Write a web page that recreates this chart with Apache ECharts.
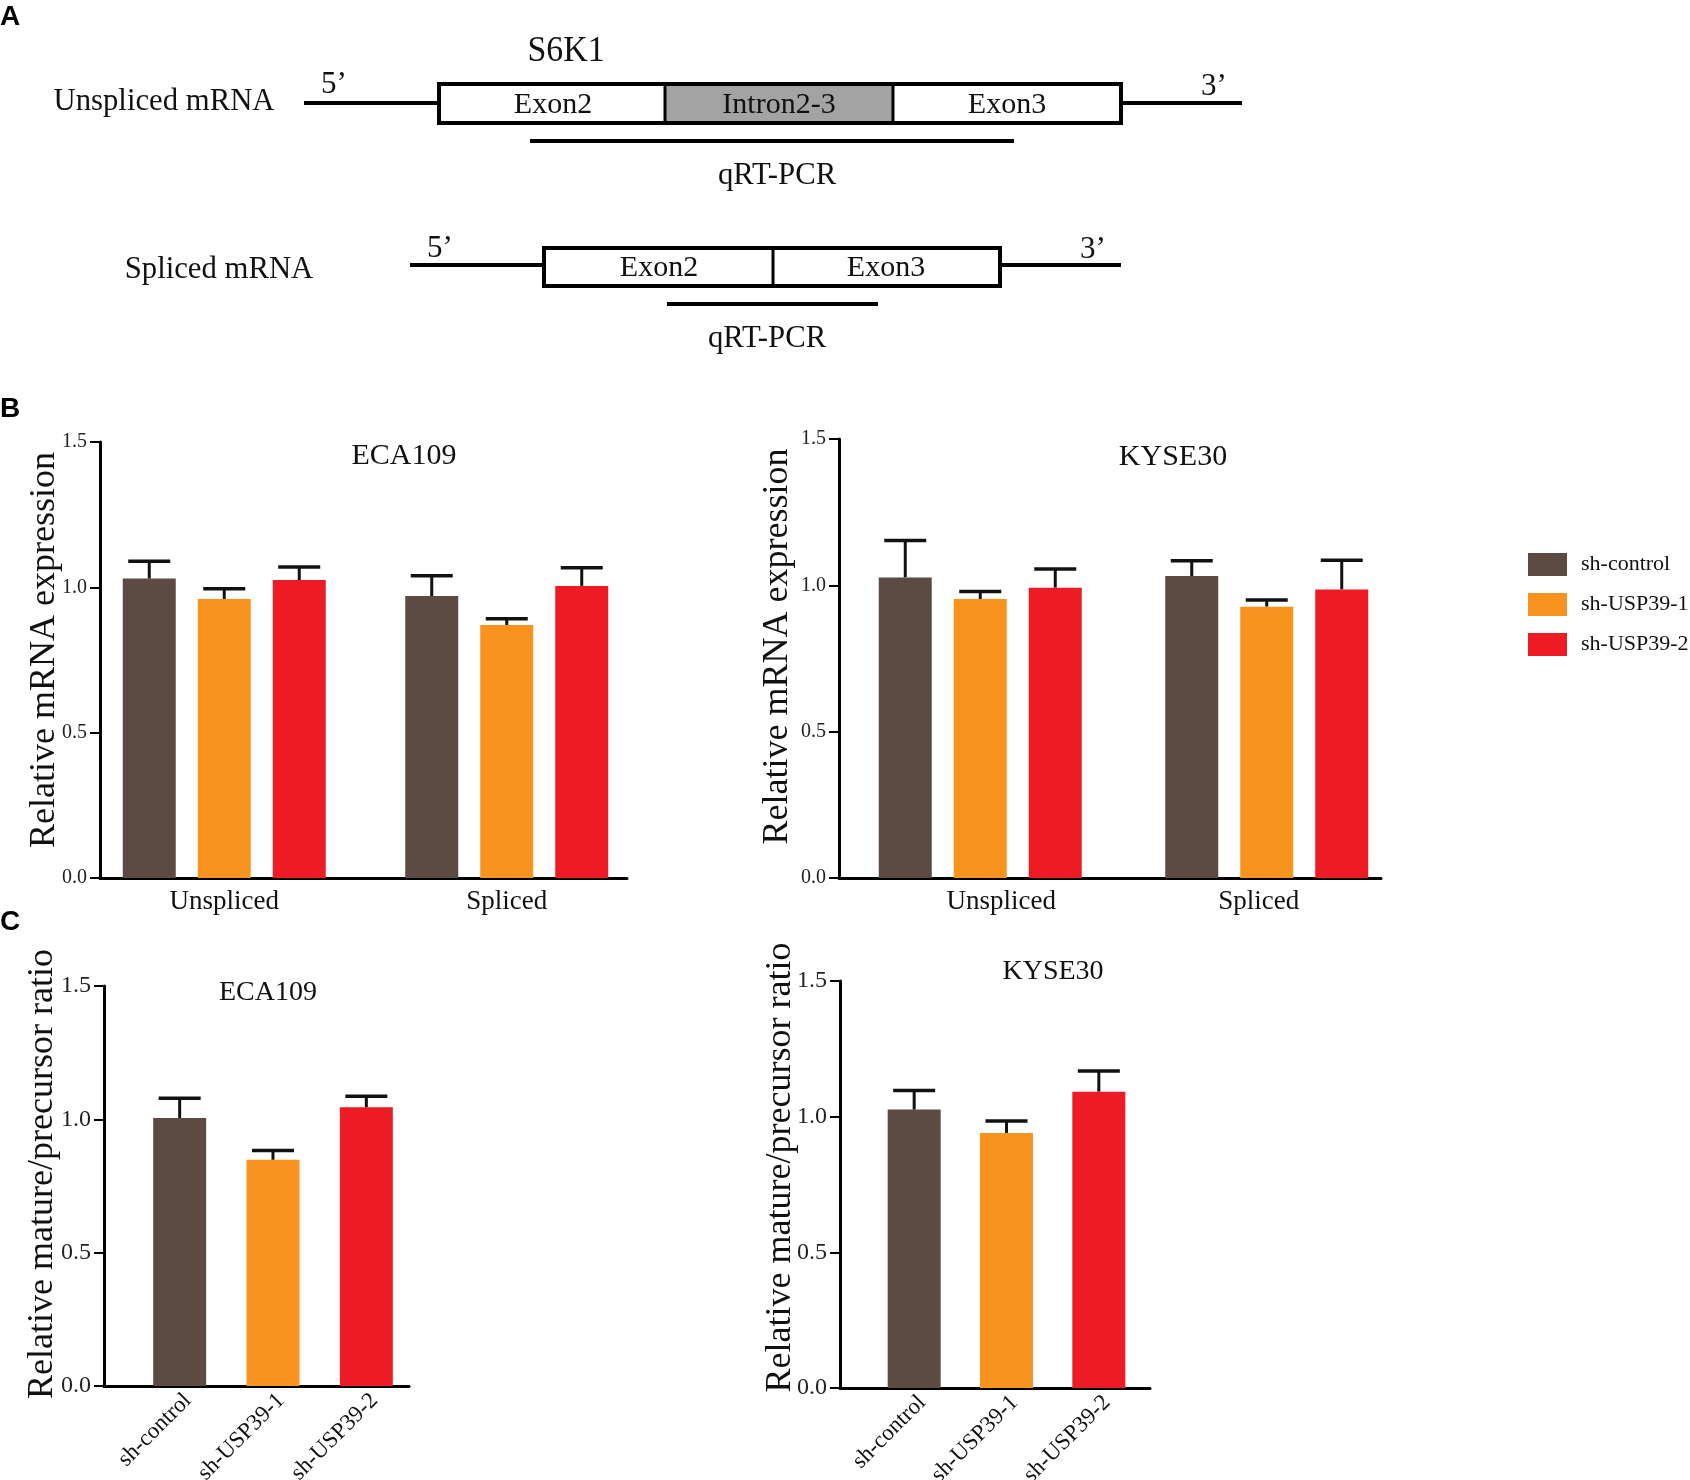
<!DOCTYPE html>
<html>
<head>
<meta charset="utf-8">
<script src="https://cdn.jsdelivr.net/npm/echarts@6/dist/echarts.min.js"></script>
<style>
  html, body { margin: 0; background: #fff; }
  #chart { width: 1690px; height: 1480px; }
</style>
</head>
<body>
<div id="chart"></div>
<script>
// groups and categories
const groups = ['sh-control', 'sh-USP39-1', 'sh-USP39-2'];
const splicing = ['Unspliced', 'Spliced'];
const colors = ['#5B4B42', '#F7931E', '#ED1C24'];

// B, ECA109: relative mRNA expression (mean) and error (upper bar)
const ecaCtrl = [1.03, 0.97];
const ecaUsp1 = [0.96, 0.87];
const ecaUsp2 = [1.025, 1.005];
const ecaCtrlErr = [0.06, 0.07];
const ecaUsp1Err = [0.035, 0.022];
const ecaUsp2Err = [0.045, 0.062];

// B, KYSE30
const kyseCtrl = [1.027, 1.032];
const kyseUsp1 = [0.953, 0.927];
const kyseUsp2 = [0.992, 0.986];
const kyseCtrlErr = [0.126, 0.052];
const kyseUsp1Err = [0.026, 0.023];
const kyseUsp2Err = [0.064, 0.1];

// C, mature/precursor ratio
const ecaRatio = [1.005, 0.848, 1.045];
const ecaRatioErr = [0.074, 0.035, 0.042];
const kyseRatio = [1.026, 0.94, 1.092];
const kyseRatioErr = [0.07, 0.044, 0.076];

const serif = '"Liberation Serif", "Times New Roman", serif';
const BAR_W = 53;
const BAR_GAP = 22;

const chart = echarts.init(document.getElementById('chart'));

// error bar (stem + cap) drawn through the axes of a bar grid
function errSeries(axisIdx, means, errs, slot, nSlots) {
  const pitch = BAR_W + BAR_GAP;
  return {
    type: 'custom',
    xAxisIndex: axisIdx,
    yAxisIndex: axisIdx,
    z: 1,
    data: means.map((m, i) => [i, m, m + errs[i]]),
    renderItem(params, api) {
      const base = api.coord([api.value(0), api.value(1)]);
      const top = api.coord([api.value(0), api.value(2)]);
      const x = base[0] + (slot - (nSlots - 1) / 2) * pitch;
      return {
        type: 'group',
        children: [
          { type: 'line', shape: { x1: x, y1: base[1], x2: x, y2: top[1] },
            style: { stroke: '#111', lineWidth: 3 } },
          { type: 'line', shape: { x1: x - 21, y1: top[1], x2: x + 21, y2: top[1] },
            style: { stroke: '#111', lineWidth: 3.5 } }
        ]
      };
    }
  };
}

function frameX(g) {
  return {
    gridIndex: g, type: 'category', data: [''],
    axisLine: { lineStyle: { color: '#000', width: 3 } },
    axisTick: { show: false }, axisLabel: { show: false }
  };
}
function frameY(g, name, labelSize, nameGap, shiftUp) {
  return {
    gridIndex: g, type: 'value', min: 0, max: 1.5, interval: 0.5,
    axisLine: { show: true, lineStyle: { color: '#000', width: 3 } },
    axisTick: { show: true, length: 10, lineStyle: { color: '#000', width: 2 } },
    axisLabel: { formatter: v => v.toFixed(1), fontFamily: serif, fontSize: labelSize, color: '#222', margin: 13 },
    splitLine: { show: false },
    name: name, nameLocation: 'middle', nameGap: nameGap, nameMoveOverlap: false,
    nameTextStyle: { fontFamily: serif, fontSize: 36, color: '#111', padding: [0, 0, 0, shiftUp * 2] }
  };
}
function barX(g, cats, rotate, shifts) {
  const label = rotate
    ? { rotate: 45, verticalAlign: 'top', fontFamily: serif, fontSize: 23, color: '#111', margin: 3 }
    : { fontFamily: serif, fontSize: 27, color: '#111', margin: 10 };
  if (shifts) {
    // nudge individual category labels sideways, as in the figure
    label.formatter = (v, i) => '{c' + i + '|' + v + '}';
    label.rich = {};
    shifts.forEach((s, i) => {
      label.rich['c' + i] = {
        fontFamily: serif, fontSize: 27, color: '#111',
        padding: s > 0 ? [0, 0, 0, 2 * s] : [0, -2 * s, 0, 0]
      };
    });
  }
  return {
    gridIndex: g, type: 'category', data: cats,
    axisLine: { show: false }, axisTick: { show: false },
    axisLabel: label
  };
}
function barY(g) {
  return { gridIndex: g, type: 'value', min: 0, max: 1.5, show: false };
}

function groupedBars(axisIdx, lists) {
  return lists.map((vals, i) => ({
    name: groups[i], type: 'bar', xAxisIndex: axisIdx, yAxisIndex: axisIdx,
    barWidth: BAR_W, barGap: (BAR_GAP / BAR_W * 100).toFixed(1) + '%',
    itemStyle: { color: colors[i] }, z: 2, data: vals
  }));
}
function ratioBars(axisIdx, vals) {
  return {
    name: 'ratio', type: 'bar', xAxisIndex: axisIdx, yAxisIndex: axisIdx,
    barWidth: BAR_W, z: 2,
    data: vals.map((v, i) => ({ value: v, itemStyle: { color: colors[i] } }))
  };
}

function txt(text, x, y, size, sx) {
  return {
    type: 'text', x: x, y: y, z: 20, scaleX: sx || 1,
    style: {
      text: text, font: size + 'px ' + serif, fill: '#111',
      align: 'center', verticalAlign: 'middle', textAlign: 'center', textVerticalAlign: 'middle'
    }
  };
}
function letter(text, y) {
  return {
    type: 'text', x: 0, y: y, z: 20,
    style: { text: text, font: 'bold 28px "Liberation Sans", Arial, sans-serif', fill: '#000',
      align: 'left', verticalAlign: 'middle', textAlign: 'left', textVerticalAlign: 'middle' }
  };
}
function seg(x1, y1, x2, y2, w) {
  return { type: 'line', z: 12, shape: { x1, y1, x2, y2 }, style: { stroke: '#000', lineWidth: w || 4 } };
}

const diagram = [
  letter('A', 17), letter('B', 409), letter('C', 922),
  txt('S6K1', 566, 52, 36, 0.94),
  // unspliced transcript
  txt('Unspliced mRNA', 164, 102, 32, 0.96),
  seg(304, 103, 439, 103), seg(1121, 103, 1242, 103),
  { type: 'rect', z: 10, shape: { x: 665, y: 84, width: 228, height: 39 }, style: { fill: '#a3a3a3' } },
  { type: 'rect', z: 11, shape: { x: 439, y: 84, width: 682, height: 39 }, style: { fill: 'none', stroke: '#000', lineWidth: 4 } },
  seg(665, 84, 665, 123, 3), seg(893, 84, 893, 123, 3),
  txt('5\u2019', 334, 85, 31), txt('3\u2019', 1214, 87, 31),
  txt('Exon2', 553, 105, 30), txt('Intron2-3', 779, 105, 30), txt('Exon3', 1007, 105, 30),
  seg(530, 141, 1014, 141),
  txt('qRT-PCR', 777, 176, 32, 0.96),
  // spliced transcript
  txt('Spliced mRNA', 219, 270, 32, 0.96),
  seg(410, 265, 544, 265), seg(1000, 265, 1121, 265),
  { type: 'rect', z: 11, shape: { x: 544, y: 248, width: 456, height: 38 }, style: { fill: 'none', stroke: '#000', lineWidth: 4 } },
  seg(773, 248, 773, 286, 3),
  txt('5\u2019', 440, 249, 31), txt('3\u2019', 1093, 250, 31),
  txt('Exon2', 659, 268, 30), txt('Exon3', 886, 268, 30),
  seg(667, 304, 878, 304),
  txt('qRT-PCR', 767, 339, 32, 0.96),
  // panel titles
  txt('ECA109', 404, 456, 30), txt('KYSE30', 1173, 457, 30),
  txt('ECA109', 268, 993, 28), txt('KYSE30', 1053, 972, 28)
];

// fixed pixel grids; outerBoundsMode none keeps v6 from shrinking them to fit labels
function grid(left, top, width, height) {
  return { left, top, width, height, outerBoundsMode: 'none', containLabel: false };
}

chart.setOption({
  animation: false,
  backgroundColor: '#fff',
  grid: [
    grid(100, 442, 527, 436),
    grid(83, 442, 565, 436),
    grid(839, 439, 542, 439),
    grid(837, 439, 573, 439),
    grid(104, 986, 305, 400),
    grid(133, 986, 280, 400),
    grid(840, 981, 310, 407),
    grid(868, 981, 277, 407)
  ],
  xAxis: [
    frameX(0), barX(1, splicing, false),
    frameX(2), barX(3, splicing, false, [21, -8]),
    frameX(4), barX(5, groups, true),
    frameX(6), barX(7, groups, true)
  ],
  yAxis: [
    frameY(0, 'Relative mRNA expression', 20, 37, 10), barY(1),
    frameY(2, 'Relative mRNA expression', 20, 43, 12), barY(3),
    frameY(4, 'Relative mature/precursor ratio', 24, 43, 12), barY(5),
    frameY(6, 'Relative mature/precursor ratio', 24, 41, 17), barY(7)
  ],
  legend: {
    data: groups, orient: 'vertical', left: 1523, top: 548,
    itemWidth: 39, itemHeight: 23, itemGap: 17, icon: 'rect', selectedMode: false,
    textStyle: { fontFamily: serif, fontSize: 22, color: '#111', padding: [0, 0, 0, 9] }
  },
  graphic: diagram,
  series: [
    ...groupedBars(1, [ecaCtrl, ecaUsp1, ecaUsp2]),
    errSeries(1, ecaCtrl, ecaCtrlErr, 0, 3),
    errSeries(1, ecaUsp1, ecaUsp1Err, 1, 3),
    errSeries(1, ecaUsp2, ecaUsp2Err, 2, 3),
    ...groupedBars(3, [kyseCtrl, kyseUsp1, kyseUsp2]),
    errSeries(3, kyseCtrl, kyseCtrlErr, 0, 3),
    errSeries(3, kyseUsp1, kyseUsp1Err, 1, 3),
    errSeries(3, kyseUsp2, kyseUsp2Err, 2, 3),
    ratioBars(5, ecaRatio),
    errSeries(5, ecaRatio, ecaRatioErr, 0, 1),
    ratioBars(7, kyseRatio),
    errSeries(7, kyseRatio, kyseRatioErr, 0, 1)
  ]
});
</script>
</body>
</html>
